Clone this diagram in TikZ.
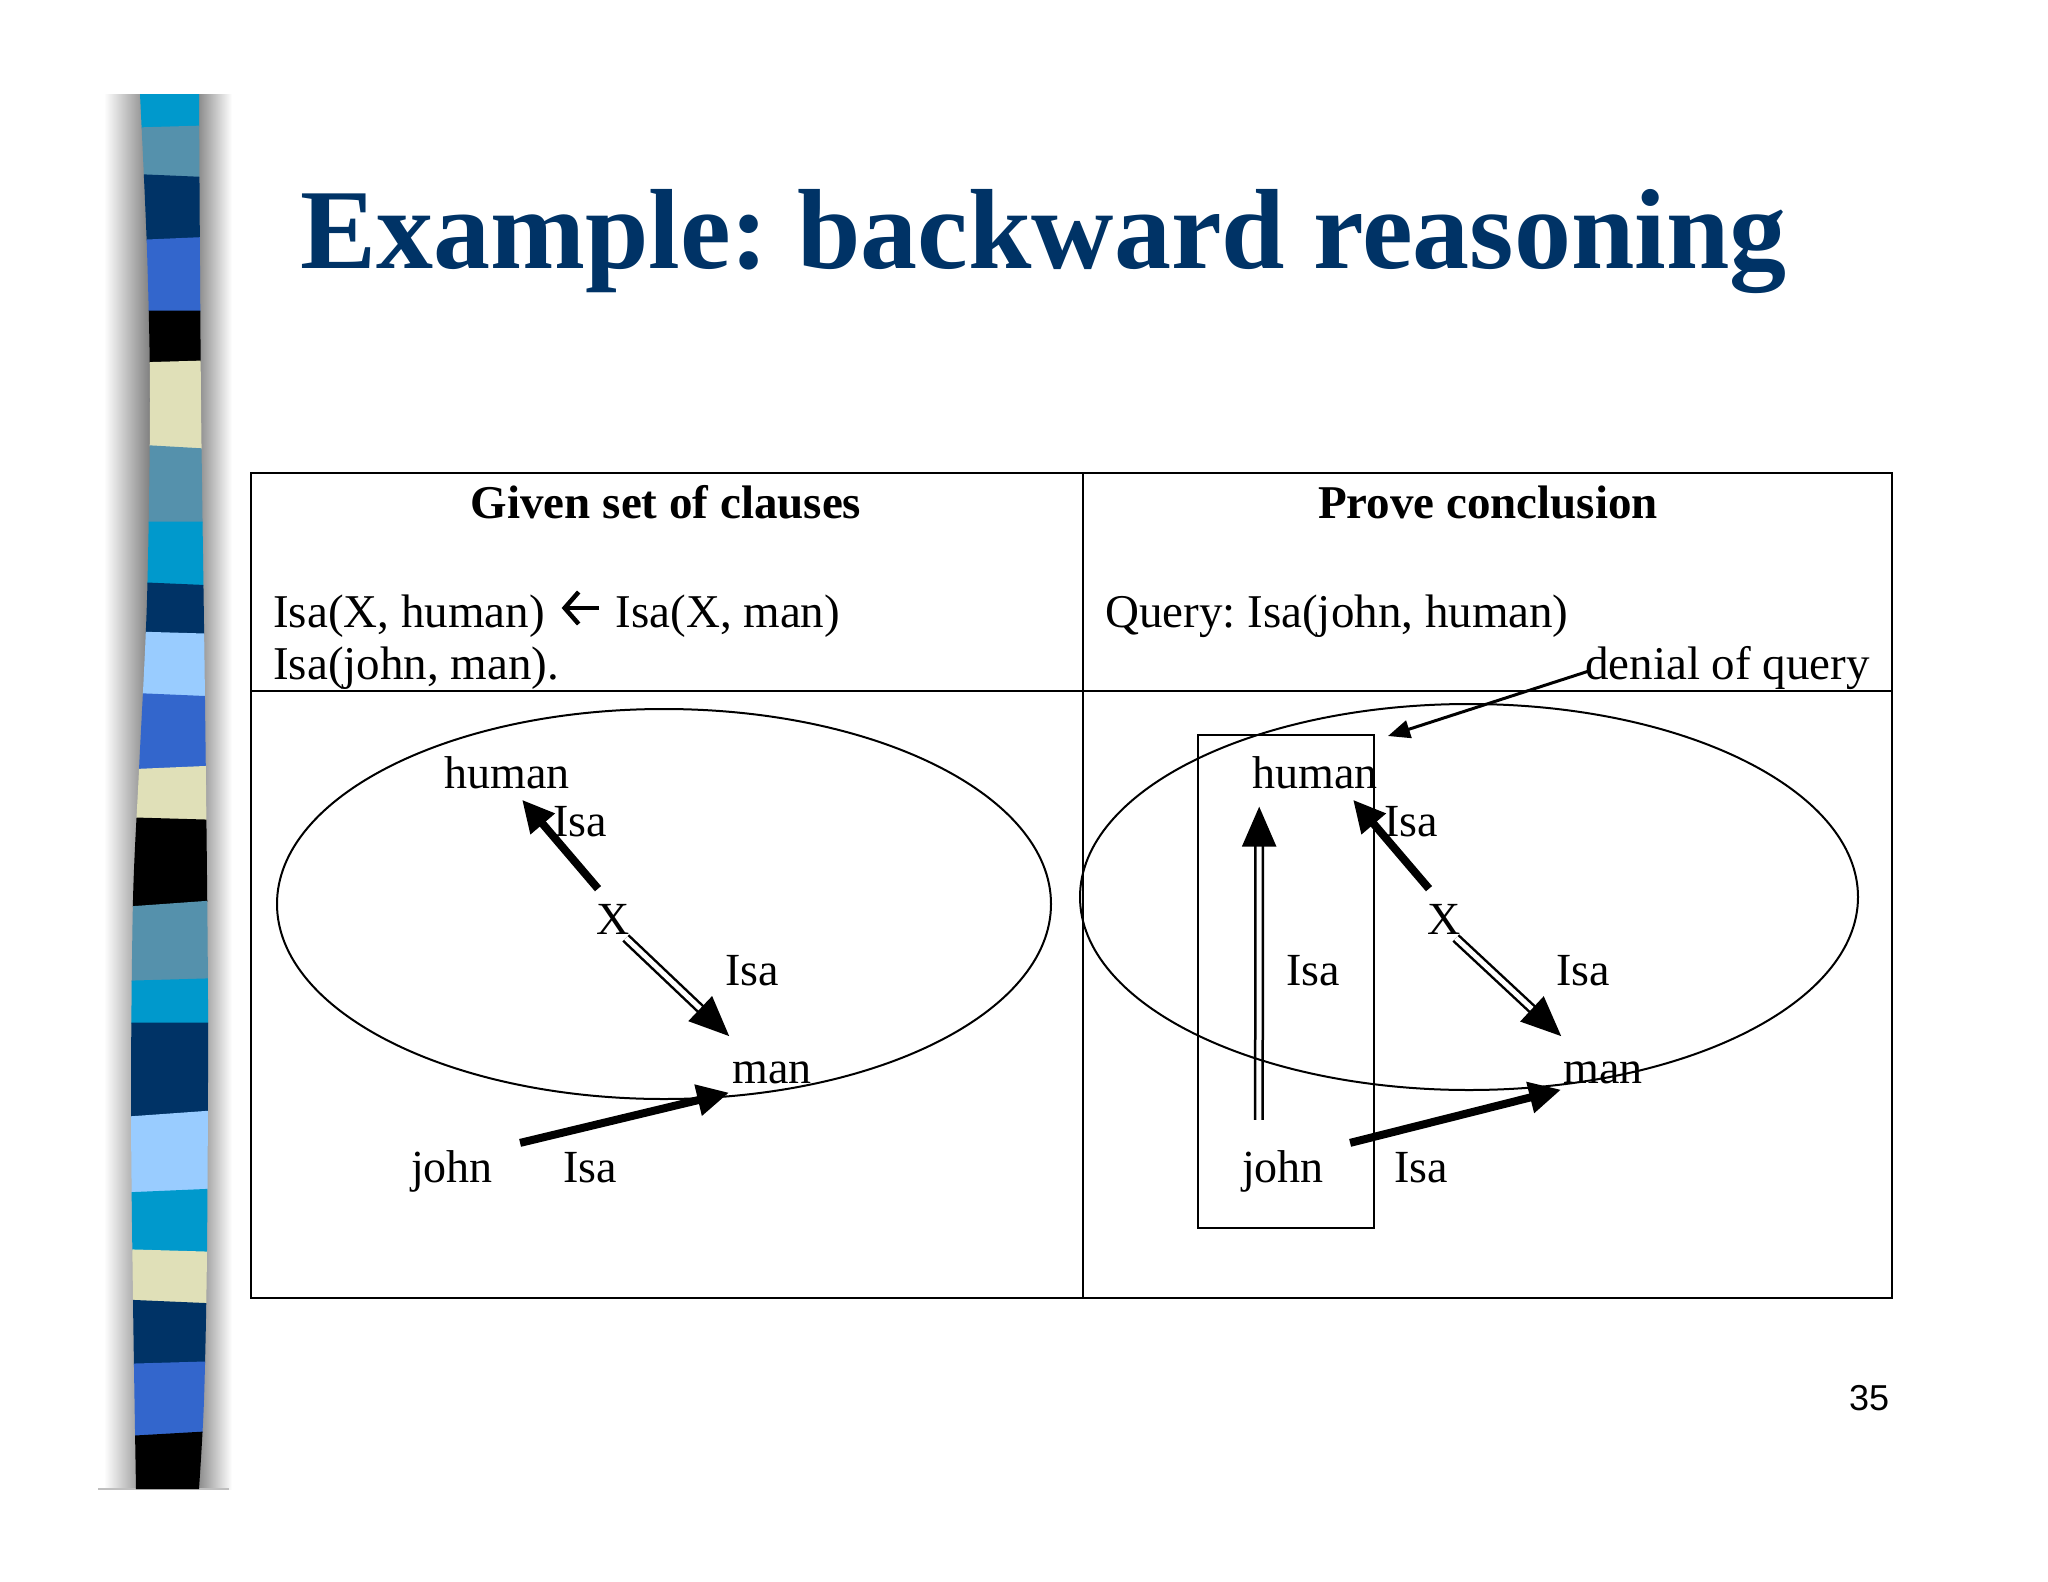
\documentclass[tikz,border=0pt]{standalone}
\usepackage{fontspec}
\setmainfont{Liberation Serif}
\newfontfamily\numfont{Liberation Sans}
\usepackage{tikz}
\usetikzlibrary{arrows.meta}
\frenchspacing
\definecolor{titleblue}{RGB}{0,51,102}
\definecolor{stripcyan}{RGB}{0,153,204}
\definecolor{stripsteel}{RGB}{85,145,172}
\definecolor{stripnavy}{RGB}{0,51,102}
\definecolor{stripblue}{RGB}{51,102,204}
\definecolor{stripbeige}{RGB}{224,224,184}
\definecolor{striplight}{RGB}{153,204,255}
\newcommand{\impliedby}{\hspace{3pt}\tikz[baseline=-19pt]\draw[line width=4.5pt, {Straight Barb[length=14pt, width=32pt]}-] (0pt,0pt) -- (37pt,0pt);\hspace{3pt}}

\begin{document}
\begin{tikzpicture}[x=1pt, y=-1pt,
    lbl/.style={font=\fontsize{46}{50}\selectfont, inner sep=0pt, anchor=base},
    txt/.style={font=\fontsize{47}{52}\selectfont, inner sep=0pt, anchor=base west},
    hdr/.style={font=\fontsize{47}{52}\selectfont\bfseries, inner sep=0pt, anchor=base},
    isa/.style={line width=8pt, -{Triangle[length=32pt, width=30pt]}},
    isadbl/.style={double, double distance=5pt, line width=2.5pt, -{Triangle[length=40pt, width=34pt]}},
    frame/.style={line width=2pt}]
      \useasboundingbox (0,0) rectangle (2048,1582);

      % side strip with its shadow
      \shade[left color=white, right color=black!50] (104,94) rectangle (150,1489);
      \shade[left color=black!50, right color=white] (195,94) rectangle (232,1489);
      \draw[black!25, line width=1.5pt] (98,1489) -- (229,1489);
      \begin{scope}
        \clip plot[smooth] coordinates {(140,94) (147,250) (150,400) (147,600) (139,770) (133,900) (131,1100) (133,1300) (136,1489)}
          -- plot[smooth] coordinates {(199,1489) (204,1400) (207,1250) (208,1000) (205,700) (201,400) (199,94)} -- cycle;
        \foreach \ytop/\ttop/\ybot/\tbot/\col in {
            94/0/127/2/stripcyan, 127/2/176/-3/stripsteel, 176/-3/239/3/stripnavy,
            239/3/311/0/stripblue, 311/0/362/2/black, 362/2/447/-4/stripbeige,
            447/-4/522/0/stripsteel, 522/0/584/-3/stripcyan, 584/-3/633/-2/stripnavy,
            633/-2/695/-3/striplight, 695/-3/768/3/stripblue, 768/3/819/-2/stripbeige,
            819/-2/904/5/black, 904/5/980/2/stripsteel, 980/2/1023/0/stripcyan,
            1023/0/1114/5/stripnavy, 1114/5/1191/3/striplight, 1191/3/1251/-2/stripcyan,
            1251/-2/1302/-3/stripbeige, 1302/-3/1363/2/stripnavy, 1363/2/1434/4/stripblue,
            1434/4/1489/0/black}
          \fill[\col] (100,{\ytop+(\ttop)-0.5}) -- (240,{\ytop-(\ttop)-0.5}) -- (240,{\ybot-(\tbot)+0.5}) -- (100,{\ybot+(\tbot)+0.5}) -- cycle;
      \end{scope}

      \node[anchor=base west, inner sep=0pt, text=titleblue, font=\fontsize{114}{120}\selectfont\bfseries] (title) at (300,268) {Example: backward reasoning};

      % table
      \draw[frame] (251,473) rectangle (1892,1298);
      \draw[frame] (251,691) -- (1892,691);
      \draw[frame] (1083,473) -- (1083,1298);

      \node[hdr] (given) at (666,518) {Given set of clauses};
      \node[hdr] (prove) at (1488,518) {Prove conclusion};
      \node[txt] (rule) at (273,627) {Isa(X, human) \impliedby{} Isa(X, man)};
      \node[txt] (fact) at (273,679) {Isa(john, man).};
      \node[txt] (query) at (1105,627) {Query: Isa(john, human)};
      \node[txt] (denial) at (1585,679) {denial of query};

      % left: the clauses
      \node[lbl] (huml) at (507,788) {human};
      \node[lbl] (isal1) at (580,836) {Isa};
      \node[lbl] (xl) at (613,934) {X};
      \node[lbl] (isal2) at (752,985) {Isa};
      \node[lbl] (manl) at (772,1083) {man};
      \node[lbl] (johnl) at (452,1182) {john};
      \node[lbl] (isal3) at (590,1182) {Isa};

      \draw[isa] ([shift={(-15,-15)}]xl.north) -- ([shift={(15,11)}]huml.south);
      \draw[isadbl] ([shift={(-4,4)}]xl.base east) -- ([shift={(-3,-25)}]manl.north west);
      \draw[isa] ([shift={(27,-7)}]johnl.north east) -- ([shift={(-3,9)}]manl.south west);
      \draw[frame] (664,904) ellipse [x radius=387, y radius=195];

      % right: the proof
      \node[draw, frame, inner sep=0pt, minimum width=176pt, minimum height=493pt] (focus) at (1286,981.5) {};
      \node[lbl] (humr) at (1315,788) {human};
      \node[lbl] (isar1) at (1411,836) {Isa};
      \node[lbl] (xr) at (1444,934) {X};
      \node[lbl] (isar2) at (1583,985) {Isa};
      \node[lbl] (isar4) at (1313,985) {Isa};
      \node[lbl] (manr) at (1603,1083) {man};
      \node[lbl] (johnr) at (1283,1182) {john};
      \node[lbl] (isar3) at (1421,1182) {Isa};

      \draw[isa] ([shift={(-15,-15)}]xr.north) -- ([shift={(38,11)}]humr.south);
      \draw[isadbl] ([shift={(-5,4)}]xr.base east) -- ([shift={(-2,-25)}]manr.north west);
      \draw[isa] ([shift={(26,-7)}]johnr.north east) -- ([shift={(-2,6)}]manr.south west);
      \draw[isadbl] ([shift={(17,-30)}]johnr.north west) -- ([shift={(7,18)}]humr.south west);
      \draw[line width=3pt, -{Triangle[length=22pt, width=18pt]}] ([shift={(4,-8)}]denial.base west) -- ([shift={(13,2)}]focus.north east);
      \draw[frame] (1469,897) ellipse [x radius=389, y radius=193];

      \node[anchor=base, inner sep=0pt, font=\numfont\fontsize{36}{40}\selectfont] (pagenum) at (1869,1410) {35};
    \end{tikzpicture}
\end{document}
